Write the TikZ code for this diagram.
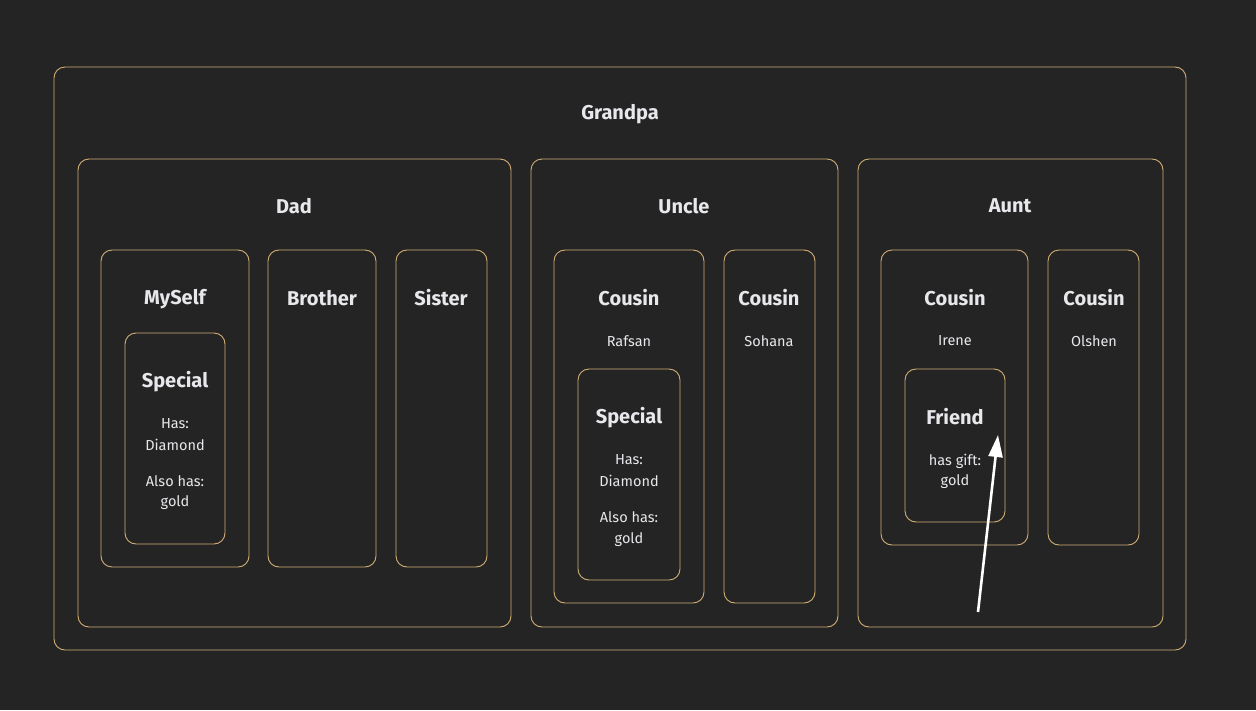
\documentclass[tikz,border=0pt]{standalone}
\usepackage{fontspec}
\setmainfont{Fira Sans}
\usetikzlibrary{fit,arrows.meta}
\definecolor{bgc}{HTML}{242424}
\definecolor{edgec}{HTML}{D2AE74}
\definecolor{txtc}{HTML}{E8E8EC}
\tikzset{
  box/.style={draw=edgec, line width=0.9pt, rounded corners=11pt, inner sep=0pt},
  ttl/.style={text=txtc, font=\bfseries\fontsize{20}{23}\selectfont, inner sep=0pt},
  sub/.style={text=txtc, font=\fontsize{14.5}{16}\selectfont, inner sep=0pt},
  arr/.style={draw=white, line width=2.6pt, -{Triangle[length=22pt,width=14pt]}}
}
\begin{document}
\begin{tikzpicture}[x=1pt,y=-1pt]
\fill[bgc] (0,0) rectangle (1256,710);
\useasboundingbox (0,0) rectangle (1256,710);
% boxes
\node[box, fit={(54,67) (1186,650)}] (grandpa) {};
\node[box, fit={(78,159) (511,627)}] (dad) {};
\node[box, fit={(531,159) (838,627)}] (uncle) {};
\node[box, fit={(858,159) (1163,627)}] (aunt) {};
\node[box, fit={(101,250) (249,567)}] (myself) {};
\node[box, fit={(125,333) (225,544)}] (special1) {};
\node[box, fit={(268,250) (376,567)}] (brother) {};
\node[box, fit={(396,250) (487,567)}] (sister) {};
\node[box, fit={(554,250) (704,603)}] (cousin1) {};
\node[box, fit={(578,369) (680,580)}] (special2) {};
\node[box, fit={(724,250) (815,603)}] (cousin2) {};
\node[box, fit={(881,250) (1028,545)}] (cousin3) {};
\node[box, fit={(905,369) (1005,522)}] (friend) {};
\node[box, fit={(1048,250) (1139,545)}] (cousin4) {};
% titles
\node[ttl] (tgrandpa) at (620,114) {Grandpa};
\node[ttl] (tdad) at (294,206) {Dad};
\node[ttl] (tuncle) at (684,206) {Uncle};
\node[ttl] (taunt) at (1010,206) {Aunt};
\node[ttl] (tmyself) at (175,299) {MySelf};
\node[ttl] (tbrother) at (322,298) {Brother};
\node[ttl] (tsister) at (441,298) {Sister};
\node[ttl] (tspecial1) at (175,382) {Special};
\node[ttl] (tcousin1) at (629,298) {Cousin};
\node[ttl] (tspecial2) at (629,418) {Special};
\node[ttl] (tcousin2) at (769,298) {Cousin};
\node[ttl] (tcousin3) at (955,298) {Cousin};
\node[ttl] (tfriend) at (955,417) {Friend};
\node[ttl] (tcousin4) at (1094,298) {Cousin};
% sub texts
\node[sub] (s1a) at (175,424) {Has:};
\node[sub] (s1b) at (175,445) {Diamond};
\node[sub] (s1c) at (175,481) {Also has:};
\node[sub] (s1d) at (175,503) {gold};
\node[sub] (rafsan) at (629,341) {Rafsan};
\node[sub] (s2a) at (629,460) {Has:};
\node[sub] (s2b) at (629,481) {Diamond};
\node[sub] (s2c) at (629,517) {Also has:};
\node[sub] (s2d) at (629,540) {gold};
\node[sub] (sohana) at (769,341) {Sohana};
\node[sub] (irene) at (955,341) {Irene};
\node[sub] (f1) at (955,461) {has gift:};
\node[sub] (f2) at (955,482) {gold};
\node[sub] (olshen) at (1094,341) {Olshen};
% arrow
\coordinate (astart) at (978,612);
\coordinate (aend) at (998,435);
\draw[arr] (astart) -- (aend);
\end{tikzpicture}
\end{document}
